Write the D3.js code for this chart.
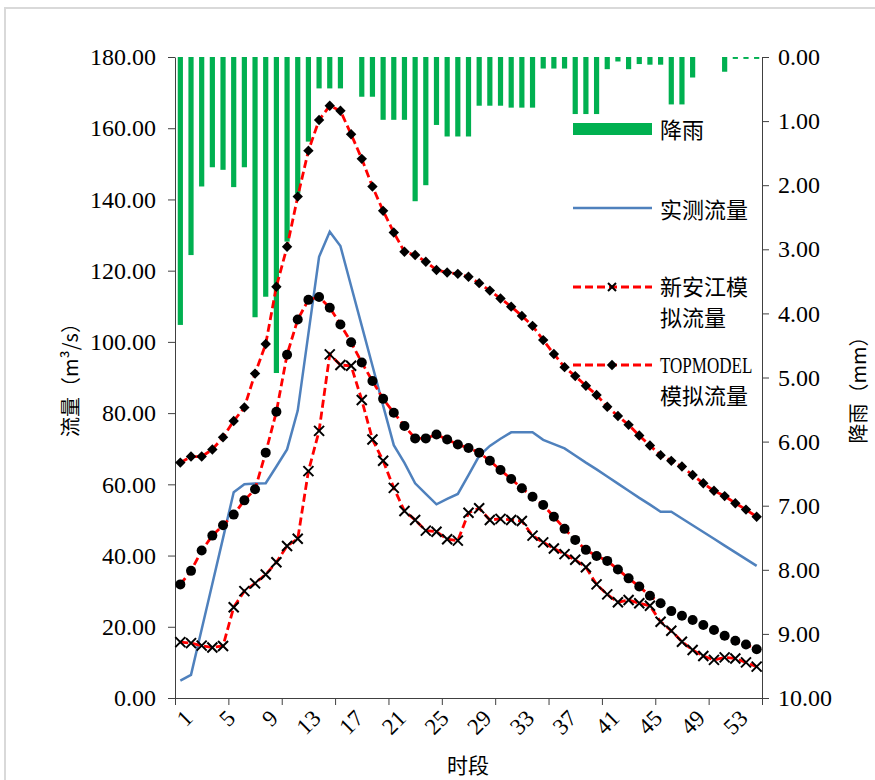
<!DOCTYPE html>
<html>
<head>
<meta charset="utf-8">
<script src="https://cdn.jsdelivr.net/npm/d3@7"></script>
<style>
  body { margin: 0; background: #fff; }
  svg { display: block; }
</style>
</head>
<body>
<svg id="chart" width="875" height="780"></svg>
<script>
// 时段 1..55
const periods = d3.range(1, 56);
const xLabels = [1, 5, 9, 13, 17, 21, 25, 29, 33, 37, 41, 45, 49, 53];
const flowTicks = [0, 20, 40, 60, 80, 100, 120, 140, 160, 180];
const rainTicks = [0, 1, 2, 3, 4, 5, 6, 7, 8, 9, 10];

// 降雨 (mm)
const rain = [4.18, 3.09, 2.02, 1.72, 1.76, 2.03, 1.72, 4.06, 3.74, 4.93,
  2.88, 2.13, 1.32, 0.49, 0.49, 0.49, 0, 0.62, 0.62, 0.98,
  0.98, 0.98, 2.25, 2.0, 1.06, 1.24, 1.24, 1.24, 0.76, 0.76,
  0.76, 0.79, 0.79, 0.79, 0.18, 0.18, 0.18, 0.89, 0.89, 0.89,
  0.19, 0.07, 0.19, 0.11, 0.12, 0.12, 0.74, 0.74, 0.32, 0,
  0, 0.23, 0.03, 0.03, 0.03];

// 实测流量
const observed = [4.9, 6.5, 19.3, 32.1, 44.9, 57.8, 60.0, 60.2, 60.3, 65.0,
  69.8, 80.7, 102.3, 123.9, 130.9, 126.9, 115.7, 104.5, 93.3, 82.1,
  71.0, 66.0, 60.3, 57.3, 54.4, 55.9, 57.3, 62.6, 68.0, 70.8,
  72.8, 74.6, 74.6, 74.6, 72.5, 71.3, 70.1, 68.1, 66.1, 64.2,
  62.2, 60.2, 58.2, 56.2, 54.3, 52.3, 52.3, 50.4, 48.5, 46.6,
  44.7, 42.8, 40.9, 39.0, 37.1];

// 新安江模拟流量
const xaj = [15.7, 15.4, 14.7, 14.2, 14.6, 25.5, 30.0, 32.2, 34.7, 38.1,
  42.7, 44.7, 63.7, 75.0, 96.5, 93.5, 93.3, 83.7, 72.6, 66.6,
  59.0, 52.5, 50.0, 47.0, 46.7, 44.6, 44.2, 52.0, 53.3, 50.0,
  50.3, 50.0, 49.7, 45.6, 43.7, 42.0, 40.4, 38.8, 36.7, 31.9,
  29.1, 26.9, 27.5, 26.6, 25.9, 21.4, 18.9, 15.8, 13.5, 11.8,
  10.7, 11.4, 11.1, 10.0, 8.8];

// TOPMODEL模拟流量
const topmodel = [66.1, 67.8, 67.8, 69.8, 73.2, 77.8, 81.6, 91.1, 99.4, 115.5,
  126.7, 140.8, 153.7, 162.3, 166.3, 164.9, 158.3, 151.4, 143.6, 136.8,
  130.7, 125.3, 124.4, 122.5, 120.2, 119.5, 119.1, 118.3, 116.5, 114.4,
  112.2, 109.9, 107.3, 104.5, 100.5, 96.6, 92.9, 90.4, 87.7, 85.1,
  81.8, 79.2, 76.7, 73.7, 70.9, 68.2, 66.6, 65.0, 62.6, 60.3,
  58.2, 56.7, 54.7, 52.9, 50.9];

// 圆点系列 (no legend entry)
const dots = [31.9, 35.7, 41.4, 45.6, 48.5, 51.5, 55.5, 58.6, 68.9, 80.4,
  96.4, 106.3, 111.8, 112.6, 109.6, 104.9, 99.9, 94.2, 89.0, 84.0,
  80.1, 76.4, 72.9, 72.9, 74.0, 72.6, 71.2, 70.2, 68.9, 66.6,
  64.0, 61.5, 58.9, 56.5, 54.2, 50.9, 47.5, 44.4, 41.6, 39.9,
  38.5, 36.1, 33.6, 31.3, 28.7, 26.6, 24.4, 23.1, 21.9, 20.5,
  19.1, 17.5, 16.1, 15.0, 13.7];

const serif = "'Liberation Serif', 'Times New Roman', serif";
const cjk = "'Noto Sans CJK SC', sans-serif";

const plotL = 175, plotR = 762, plotT = 57, plotB = 698;

const svg = d3.select("#chart");

svg.append("rect")
  .attr("x", 5).attr("y", 8)
  .attr("width", 900).attr("height", 800)
  .attr("fill", "#fff")
  .attr("stroke", "#d9d9d9")
  .attr("stroke-width", 2);

const x = d3.scaleBand().domain(periods).range([plotL, plotR]);
const cx = (i) => x(i) + x.bandwidth() / 2;
const xEdge = d3.scaleLinear().domain([0, 55]).range([plotL, plotR]);
const y = d3.scaleLinear().domain([0, 180]).range([plotB, plotT]);
const y2 = d3.scaleLinear().domain([0, 10]).range([plotT, plotB]);

// rain bars
svg.append("g")
  .selectAll("rect")
  .data(rain)
  .join("rect")
  .attr("x", (d, i) => cx(i + 1) - 2.6)
  .attr("y", y2(0))
  .attr("width", 5.2)
  .attr("height", (d) => y2(d) - y2(0))
  .attr("fill", "#00b050");

// axes
const styleAxis = (g, size) => {
  g.selectAll(".domain").attr("stroke", "#404040");
  g.selectAll(".tick line").attr("stroke", "#404040");
  g.selectAll(".tick text")
    .attr("font-family", serif)
    .attr("font-size", size)
    .attr("fill", "#000");
};

svg.append("g")
  .attr("transform", `translate(${plotL},0)`)
  .call(d3.axisLeft(y).tickValues(flowTicks).tickFormat(d3.format(".2f")).tickSize(7).tickSizeOuter(0).tickPadding(12))
  .call((g) => styleAxis(g, 24));

svg.append("g")
  .attr("transform", `translate(${plotR},0)`)
  .call(d3.axisRight(y2).tickValues(rainTicks).tickFormat(d3.format(".2f")).tickSize(7).tickSizeOuter(0).tickPadding(9))
  .call((g) => styleAxis(g, 24));

svg.append("g")
  .attr("transform", `translate(0,${plotB})`)
  .call(d3.axisBottom(xEdge).tickValues(d3.range(0, 56, 5)).tickFormat("").tickSize(7).tickSizeOuter(0))
  .call((g) => styleAxis(g, 20));

svg.append("g")
  .selectAll("text")
  .data(xLabels)
  .join("text")
  .attr("transform", (d) => `translate(${cx(d) + 8},${plotB + 16}) rotate(-45)`)
  .attr("text-anchor", "end")
  .attr("dy", "0.35em")
  .attr("font-family", serif)
  .attr("font-size", 23)
  .text((d) => d);

// titles
svg.append("text")
  .attr("x", 468).attr("y", 773)
  .attr("text-anchor", "middle")
  .attr("font-family", cjk)
  .attr("font-size", 21)
  .text("时段");

svg.append("text")
  .attr("transform", "translate(78,375) rotate(-90)")
  .attr("text-anchor", "middle")
  .attr("font-family", cjk)
  .attr("font-size", 20)
  .text("流量（m³/s）");

svg.append("text")
  .attr("transform", "translate(866,385) rotate(-90)")
  .attr("text-anchor", "middle")
  .attr("font-family", cjk)
  .attr("font-size", 20)
  .text("降雨（mm）");

// lines
const line = d3.line().x((d, i) => cx(i + 1)).y((d) => y(d));

svg.append("path")
  .attr("d", line(observed))
  .attr("fill", "none")
  .attr("stroke", "#4f81bd")
  .attr("stroke-width", 2.5);

const dashed = (data) => svg.append("path")
  .attr("d", line(data))
  .attr("fill", "none")
  .attr("stroke", "#ff0000")
  .attr("stroke-width", 2.8)
  .attr("stroke-dasharray", "8,4");

dashed(xaj);
dashed(topmodel);
dashed(dots);

const cross = "M-5,-5L5,5M-5,5L5,-5";
const diamond = "M0,-5.2L5.2,0L0,5.2L-5.2,0Z";

svg.append("g")
  .selectAll("path")
  .data(xaj)
  .join("path")
  .attr("transform", (d, i) => `translate(${cx(i + 1)},${y(d)})`)
  .attr("d", cross)
  .attr("stroke", "#000")
  .attr("stroke-width", 2)
  .attr("fill", "none");

svg.append("g")
  .selectAll("path")
  .data(topmodel)
  .join("path")
  .attr("transform", (d, i) => `translate(${cx(i + 1)},${y(d)})`)
  .attr("d", diamond)
  .attr("fill", "#000");

svg.append("g")
  .selectAll("circle")
  .data(dots)
  .join("circle")
  .attr("cx", (d, i) => cx(i + 1))
  .attr("cy", (d) => y(d))
  .attr("r", 5)
  .attr("fill", "#000");

// legend
const legend = svg.append("g");
legend.append("rect")
  .attr("x", 573).attr("y", 123)
  .attr("width", 79).attr("height", 12)
  .attr("fill", "#00b050");
legend.append("line")
  .attr("x1", 573).attr("x2", 652).attr("y1", 208).attr("y2", 208)
  .attr("stroke", "#4f81bd").attr("stroke-width", 2.5);
[287, 365].forEach((ly) => {
  legend.append("line")
    .attr("x1", 573).attr("x2", 652).attr("y1", ly).attr("y2", ly)
    .attr("stroke", "#ff0000").attr("stroke-width", 2.8)
    .attr("stroke-dasharray", "8,4");
});
legend.append("path")
  .attr("transform", "translate(612,287)")
  .attr("d", "M-4,-4L4,4M-4,4L4,-4")
  .attr("stroke", "#000").attr("stroke-width", 2);
legend.append("path")
  .attr("transform", "translate(612,365)")
  .attr("d", diamond)
  .attr("fill", "#000");

const legendText = [
  { t: "降雨", y: 130, f: cjk, s: 22, k: 1 },
  { t: "实测流量", y: 210, f: cjk, s: 22, k: 1 },
  { t: "新安江模", y: 287, f: cjk, s: 22, k: 1 },
  { t: "拟流量", y: 318, f: cjk, s: 22, k: 1 },
  { t: "TOPMODEL", y: 365, f: serif, s: 23, k: 0.74 },
  { t: "模拟流量", y: 396, f: cjk, s: 22, k: 1 }
];
legend.selectAll("text")
  .data(legendText)
  .join("text")
  .attr("transform", (d) => `translate(660,${d.y}) scale(${d.k},1)`)
  .attr("dy", "0.35em")
  .attr("font-family", (d) => d.f)
  .attr("font-size", (d) => d.s)
  .text((d) => d.t);
</script>
</body>
</html>
